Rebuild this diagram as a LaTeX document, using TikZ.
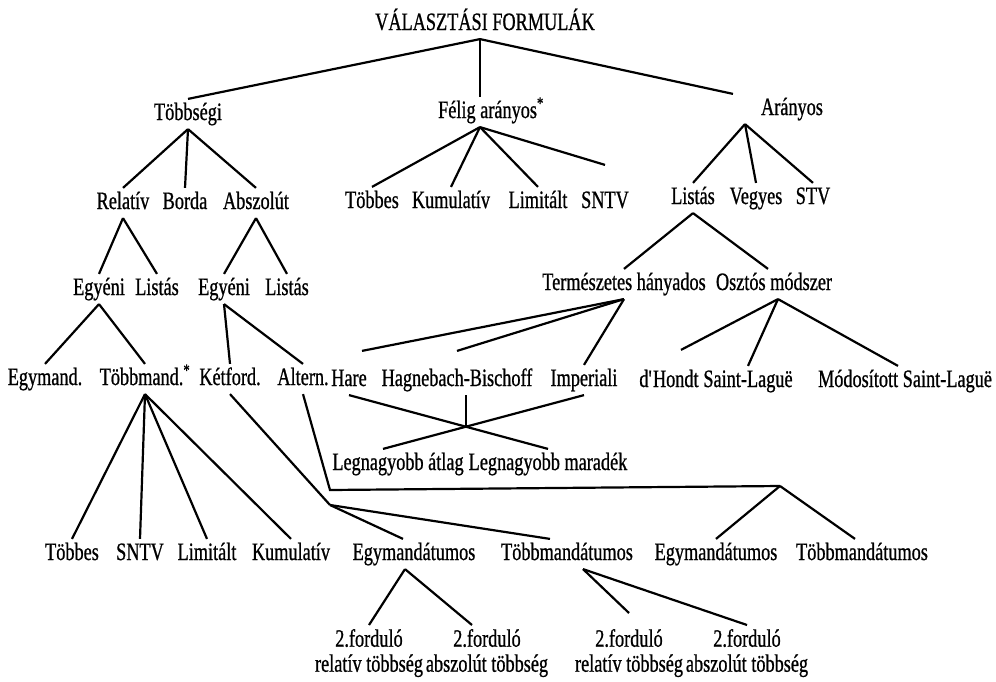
\documentclass[tikz,border=0pt]{standalone}
\usepackage{fontspec}
\setmainfont{Liberation Serif}[FakeStretch=0.73, FakeBold=0.8]
\usepackage{tikz}
\tikzset{
	every picture/.style={x=1pt, y=-1pt, line width=2.2pt}, % Unidad de 1pt, eje y hacia abajo
	lbl/.style={font=\fontsize{25}{25}\selectfont, anchor=base, text height=17pt, text depth=5pt, inner sep=3pt}, % Etiquetas de una linea
	dbl/.style={font=\fontsize{25}{25}\selectfont, anchor=north, align=center, inner sep=3pt} % Etiquetas de dos lineas
}

\begin{document}
\begin{tikzpicture}
	\useasboundingbox (0,0) rectangle (996,681);
	\node[lbl] (cim) at (485,30) {VÁLASZTÁSI FORMULÁK};
	\node[lbl] (tobbsegi) at (188,120) {Többségi};
	\node[lbl] (felig) at (491,118) {Félig arányos\textsuperscript{*}};
	\node[lbl] (aranyos) at (792,115) {Arányos};
	% Többségi ág
	\node[lbl] (rel) at (123,209) {Relatív};
	\node[lbl] (borda) at (185,209) {Borda};
	\node[lbl] (absz) at (256,209) {Abszolút};
	\node[lbl] (egy1) at (99,295) {Egyéni};
	\node[lbl] (lis1) at (157,295) {Listás};
	\node[lbl] (egy2) at (224,295) {Egyéni};
	\node[lbl] (lis2) at (287,295) {Listás};
	\node[lbl] (egymand) at (45,385) {Egymand.};
	\node[lbl] (tobbmand) at (145,385) {Többmand.\textsuperscript{*}};
	\node[lbl] (kf) at (230,385) {Kétford.};
	\node[lbl] (alt) at (303,385) {Altern.};
	\node[lbl] (t1) at (72,560) {Többes};
	\node[lbl] (t2) at (140,560) {SNTV};
	\node[lbl] (t3) at (207,560) {Limitált};
	\node[lbl] (t4) at (291,560) {Kumulatív};
	\node[lbl] (egym1) at (414,560) {Egymandátumos};
	\node[lbl] (tobbm1) at (567,560) {Többmandátumos};
	\node[lbl] (egym2) at (716,560) {Egymandátumos};
	\node[lbl] (tobbm2) at (862,560) {Többmandátumos};
	\node[dbl] (f1) at (369,625) {2.forduló\\relatív többség};
	\node[dbl] (f2) at (487,625) {2.forduló\\abszolút többség};
	\node[dbl] (f3) at (629,625) {2.forduló\\relatív többség};
	\node[dbl] (f4) at (747,625) {2.forduló\\abszolút többség};
	% Félig arányos ág
	\node[lbl] (tobbes) at (372,208) {Többes};
	\node[lbl] (kum) at (451,208) {Kumulatív};
	\node[lbl] (lim) at (538,208) {Limitált};
	\node[lbl] (sntv) at (605,208) {SNTV};
	% Arányos ág
	\node[lbl] (listas) at (693,204) {Listás};
	\node[lbl] (vegyes) at (756,204) {Vegyes};
	\node[lbl] (stv) at (813,204) {STV};
	\node[lbl] (term) at (624,290) {Természetes hányados};
	\node[lbl] (oszt) at (774,290) {Osztós módszer};
	\node[lbl] (hare) at (349,386) {Hare};
	\node[lbl] (hb) at (457,386) {Hagnebach-Bischoff};
	\node[lbl] (imp) at (584,386) {Imperiali};
	\node[lbl] (dh) at (669,387) {d\textquotesingle Hondt};
	\node[lbl] (sl) at (748,387) {Saint-Laguë};
	\node[lbl] (msl) at (905,387) {Módosított Saint-Laguë};
	\node[lbl] (la) at (398,470) {Legnagyobb átlag};
	\node[lbl] (lm) at (548,470) {Legnagyobb maradék};
	\coordinate (latop) at ([xshift=-15pt]la.north);
	\coordinate (kx) at (intersection of hare.south--lm.north and imp.south--latop);
	\coordinate (kb) at (330,505);
	\coordinate (ab) at (330,490);
	\coordinate (ac) at (780,486);
	\draw	([xshift=-5pt]cim.south) edge (tobbsegi.north)
			([xshift=-5pt]cim.south) edge ([xshift=-11pt]felig.north)
			([xshift=-5pt]cim.south) edge ([xshift=-59pt]aranyos.north)
			(tobbsegi.south) edge (rel.north)
			(tobbsegi.south) edge (borda.north)
			(tobbsegi.south) edge (absz.north)
			([xshift=-11pt]felig.south) edge (tobbes.north)
			([xshift=-11pt]felig.south) edge (kum.north)
			([xshift=-11pt]felig.south) edge (lim.north)
			([xshift=-11pt]felig.south) edge ([yshift=22pt]sntv.north)
			([xshift=-47pt]aranyos.south) edge (listas.north)
			([xshift=-47pt]aranyos.south) edge (vegyes.north)
			([xshift=-47pt]aranyos.south) edge (stv.north)
			(rel.south) edge (egy1.north)
			(rel.south) edge (lis1.north)
			(absz.south) edge (egy2.north)
			(absz.south) edge (lis2.north)
			(egy1.south) edge (egymand.north)
			(egy1.south) edge (tobbmand.north)
			(egy2.south) edge (kf.north)
			(egy2.south) edge (alt.north)
			(tobbmand.south) edge (t1.north)
			(tobbmand.south) edge (t2.north)
			(tobbmand.south) edge (t3.north)
			(tobbmand.south) edge (t4.north)
			(kf.south) edge (kb)
			(kb) edge ([xshift=-11pt]egym1.north)
			(kb) edge ([xshift=-17pt]tobbm1.north)
			(ac) edge (egym2.north)
			(ac) edge ([xshift=-7pt]tobbm2.north)
			([xshift=-9pt]egym1.south) edge (f1.north)
			([xshift=-9pt]egym1.south) edge ([xshift=-15pt]f2.north)
			([xshift=16pt]tobbm1.south) edge ([yshift=12pt]f3.north)
			([xshift=16pt]tobbm1.south) edge (f4.north)
			(listas.south) edge (term.north)
			(listas.south) edge ([xshift=-6pt]oszt.north)
			(term.south) edge ([xshift=13pt, yshift=14pt]hare.north)
			(term.south) edge ([yshift=14pt]hb.north)
			(term.south) edge (imp.north)
			([xshift=4pt]oszt.south) edge ([xshift=12pt, yshift=16pt]dh.north)
			([xshift=4pt]oszt.south) edge (sl.north)
			([xshift=4pt]oszt.south) edge ([xshift=-7pt]msl.north)
			(hare.south) edge (lm.north)
			(imp.south) edge (latop)
			(hb.south -| kx) edge (kx);
	\draw (alt.south) -- (ab) -- (ac);
\end{tikzpicture}
\end{document}
